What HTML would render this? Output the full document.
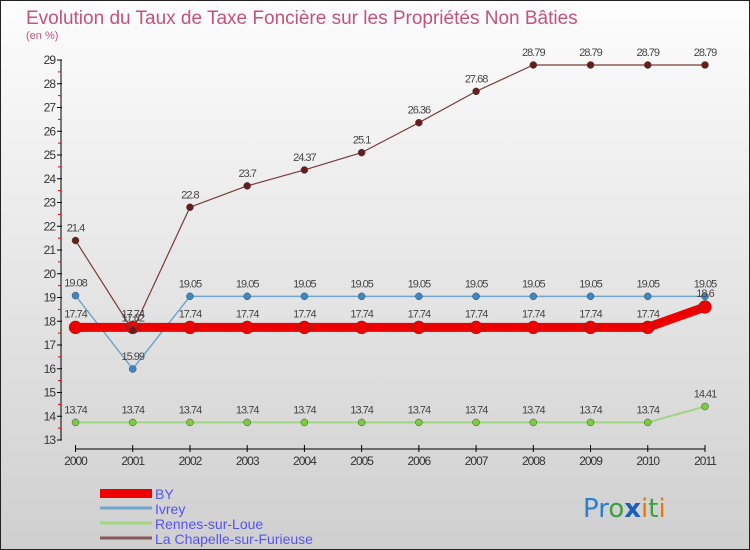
<!DOCTYPE html>
<html><head><meta charset="utf-8">
<style>
body{margin:0;}
#wrap{width:750px;height:550px;position:relative;overflow:hidden;font-family:"Liberation Sans",sans-serif;}
</style></head>
<body>
<div id="wrap">
<svg id="chart" width="750" height="550" xmlns="http://www.w3.org/2000/svg">
<defs><linearGradient id="bg" x1="0" y1="0" x2="0" y2="1"><stop offset="0" stop-color="#fdfdfd"/><stop offset="1" stop-color="#cfcfcf"/></linearGradient></defs>
<rect x="0.5" y="0.5" width="749" height="549" fill="url(#bg)" stroke="#222"/>
<text x="26" y="24" font-size="19" fill="#c4527a">Evolution du Taux de Taxe Foncière sur les Propriétés Non Bâties</text>
<text x="26" y="39" font-size="11" fill="#c4527a">(en %)</text>
<g id="axes"></g><g id="series"></g><g id="labels"></g>
<g>
<rect x="100" y="489" width="52" height="9" fill="#ee0000"/>
<text x="155" y="499" font-size="14" fill="#5555ee">BY</text>
<line x1="100" y1="508" x2="152" y2="508" stroke="#6fa6cc" stroke-width="3"/>
<text x="155" y="514" font-size="14" fill="#5555ee">Ivrey</text>
<line x1="100" y1="523" x2="152" y2="523" stroke="#9fd67f" stroke-width="3"/>
<text x="155" y="529" font-size="14" fill="#5555ee">Rennes-sur-Loue</text>
<line x1="100" y1="538" x2="152" y2="538" stroke="#8a5a5a" stroke-width="3"/>
<text x="155" y="544" font-size="14" fill="#5555ee">La Chapelle-sur-Furieuse</text>
</g>
<g font-size="26" font-family="DejaVu Sans, sans-serif">
<text x="583" y="517"><tspan fill="#2a7fd0">Pr</tspan><tspan fill="#3aa040">o</tspan><tspan fill="#1a5fc0" font-weight="bold">x</tspan><tspan fill="#ee7700">i</tspan><tspan fill="#3aa040">t</tspan><tspan fill="#ee7700">i</tspan></text>
</g>
</svg>
</div>
<script>
const years=["2000","2001","2002","2003","2004","2005","2006","2007","2008","2009","2010","2011"];
const byVals=[17.74,17.74,17.74,17.74,17.74,17.74,17.74,17.74,17.74,17.74,17.74,18.6];
const ivreyVals=[19.08,15.99,19.05,19.05,19.05,19.05,19.05,19.05,19.05,19.05,19.05,19.05];
const rennesVals=[13.74,13.74,13.74,13.74,13.74,13.74,13.74,13.74,13.74,13.74,13.74,14.41];
const chapelleVals=[21.4,17.62,22.8,23.7,24.37,25.1,26.36,27.68,28.79,28.79,28.79,28.79];
const yTicks=[13,14,15,16,17,18,19,20,21,22,23,24,25,26,27,28,29];
const NS="http://www.w3.org/2000/svg";
function xs(i){return 75.5+i*(705-75.5)/(years.length-1);}
function ys(v){return 440-(v-13)*(380/16);}
function mk(tag,attrs,parent){const e=document.createElementNS(NS,tag);for(const k in attrs)e.setAttribute(k,attrs[k]);parent.appendChild(e);return e;}
const axes=document.getElementById('axes'),ser=document.getElementById('series'),lab=document.getElementById('labels');
let yl=mk('line',{x1:61,y1:ys(29),x2:61,y2:ys(13),stroke:'#000'},axes);


yTicks.forEach(t=>{
 let l=mk('line',{x1:57,y1:ys(t),x2:62,y2:ys(t),stroke:'#000'},axes);
 
 
 if(t<29){let m=mk('line',{x1:58,y1:ys(t+0.5),x2:61,y2:ys(t+0.5),stroke:'#e00'},axes);
 
 }
 let tx=mk('text',{x:55,y:ys(t)+4,'font-size':12,'text-anchor':'end',fill:'#333','letter-spacing':'-1'},axes);
 tx.textContent=t;
 
 
});
let xl=mk('line',{x1:xs(0),y1:449,x2:xs(11),y2:449,stroke:'#000'},axes);


years.forEach((y,i)=>{
 let l=mk('line',{x1:xs(i),y1:445,x2:xs(i),y2:452,stroke:'#000'},axes);
 
 
 let t=mk('text',{x:xs(i),y:465,'font-size':12,'text-anchor':'middle',fill:'#333','letter-spacing':'-1'},axes);
 t.textContent=y;
 
 
});
function draw(vals,name,color,w,r,dot,labelOff){
 const pts=vals.map((v,i)=>xs(i)+','+ys(v)).join(' ');
 let p=mk('polyline',{points:pts,fill:'none',stroke:color,'stroke-width':w},ser);
 
 
 vals.forEach((v,i)=>{
  let c=mk('circle',{cx:xs(i),cy:ys(v),r:r,fill:dot,stroke:'#444','stroke-width':0.5},ser);
  
  
  let t=mk('text',{x:xs(i),y:ys(v)+labelOff,'font-size':11,'text-anchor':'middle',fill:'#444','letter-spacing':'-1'},lab);
  t.textContent=v;
  
  
 });
}
draw(rennesVals,'rennes','#9fd67f',2,3.5,'#7ccc3c',-9);
draw(ivreyVals,'ivrey','#6fa6cc',1.5,3.5,'#3a88c8',-9);
draw(byVals,'by','#ee0000',9,6.5,'#ee0000',-10);
draw(chapelleVals,'chapelle','#7a3a3a',1.2,3.5,'#6a1c1c',-9);
</script>
</body></html>
